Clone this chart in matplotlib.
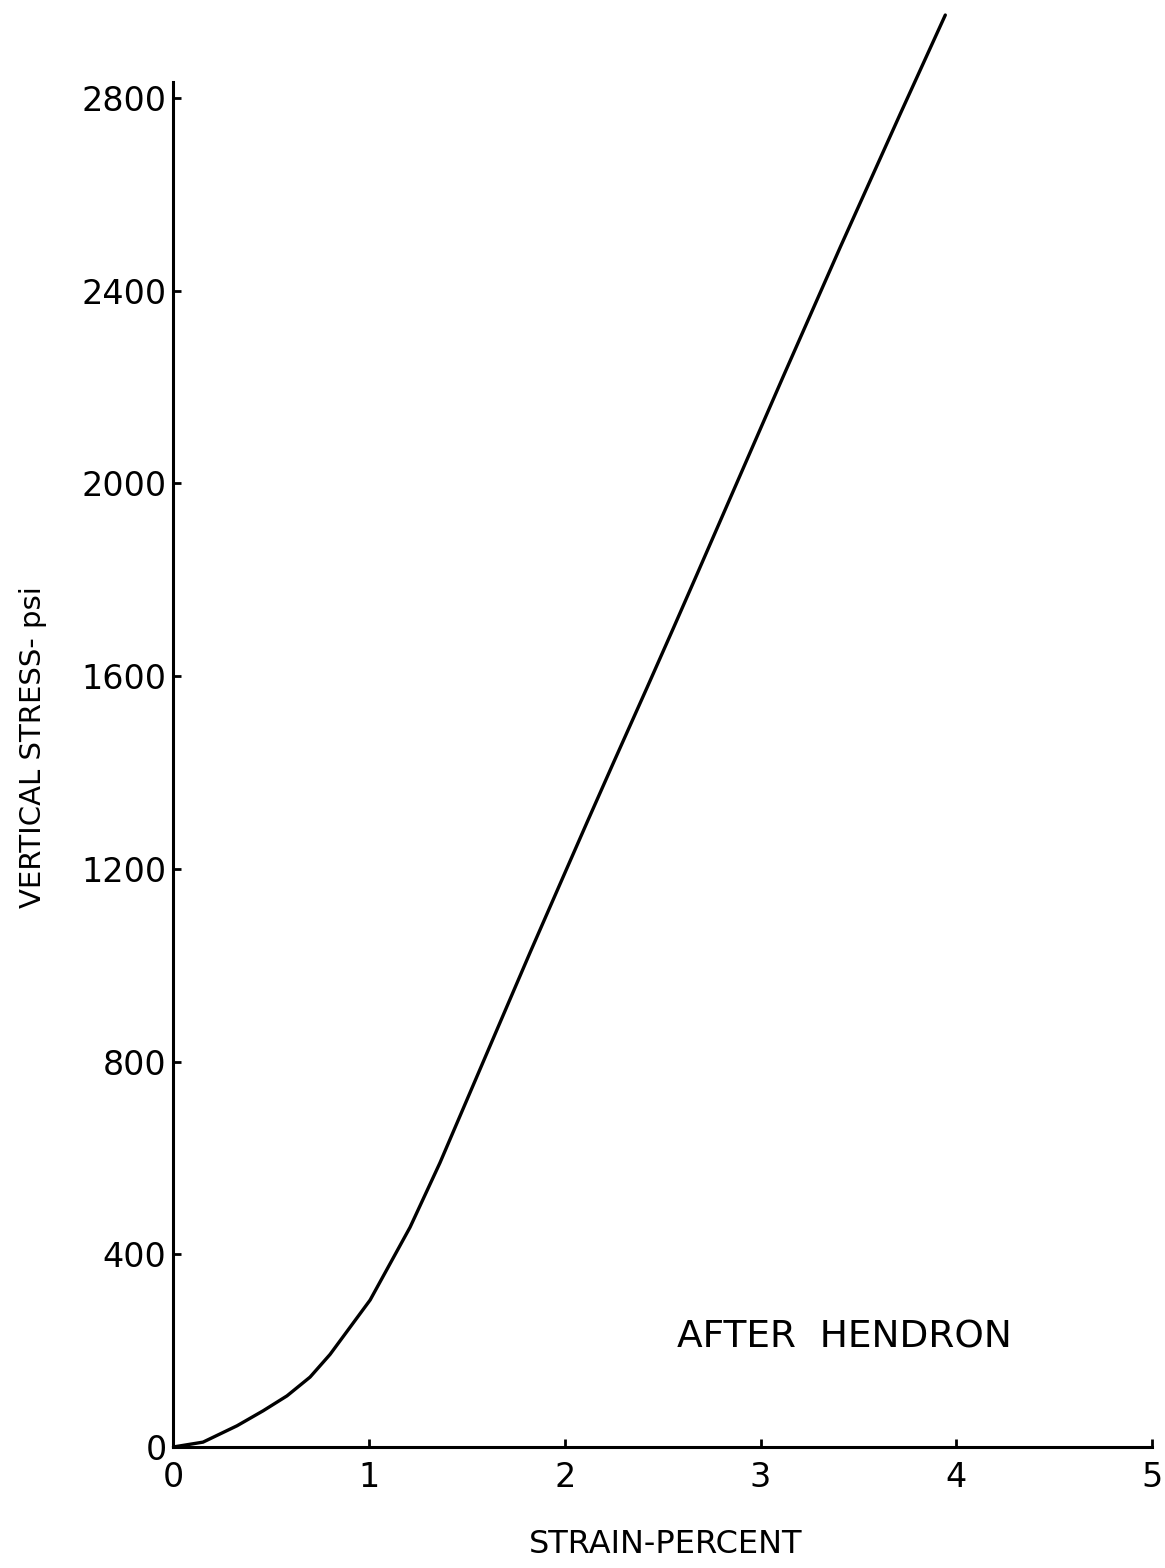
import matplotlib
matplotlib.use("Agg")
import matplotlib.pyplot as plt

# Data (strain %, vertical stress psi)
strain = [0.0, 0.151, 0.325, 0.458, 0.580, 0.698, 0.800, 1.005, 1.209, 1.362,
          1.517, 1.653, 1.822, 1.991, 2.114, 2.247, 2.421, 2.554, 2.676,
          3.116, 3.407, 3.714, 3.944]
stress = [0, 10, 44, 75, 106, 145, 192, 305, 456, 590,
          737, 866, 1026, 1183, 1297, 1419, 1577, 1699, 1812,
          2222, 2490, 2767, 2972]

x_ticks = [0, 1, 2, 3, 4, 5]
x_ticklabels = ["0", "1", "2", "3", "4", "5"]
y_ticks = [0, 400, 800, 1200, 1600, 2000, 2400, 2800]
y_ticklabels = ["0", "400", "800", "1200", "1600", "2000", "2400", "2800"]

plt.rcParams['font.family'] = ['DejaVu Sans']

fig = plt.figure(figsize=(11.65, 15.68), dpi=100)
ax = fig.add_axes([0.1489, 0.0772, 0.9888 - 0.1489, 0.8705])

ax.plot(strain, stress, color='black', lw=2.4, clip_on=False,
        solid_capstyle='round', solid_joinstyle='round')

ax.set_xlim(0, 5)
ax.set_ylim(0, 2833)
ax.set_xticks(x_ticks)
ax.set_xticklabels(x_ticklabels)
ax.set_yticks(y_ticks)
ax.set_yticklabels(y_ticklabels)

for s in ['top', 'right']:
    ax.spines[s].set_visible(False)
for s in ['left', 'bottom']:
    ax.spines[s].set_linewidth(2.2)

ax.tick_params(axis='both', direction='in', length=6, width=2.0, labelsize=24)
ax.tick_params(axis='x', pad=10)
ax.tick_params(axis='y', pad=5)

ax.set_xlabel("STRAIN-PERCENT", fontsize=23)
ax.xaxis.set_label_coords(0.503, -0.0718)
ax.xaxis.label.set_va('center')
ax.set_ylabel("VERTICAL STRESS- psi", fontsize=21)
ax.yaxis.set_label_coords(-0.1436, 0.513)
ax.yaxis.label.set_va('center')

ax.text(3.43, 228, "AFTER  HENDRON", fontsize=27, ha='center', va='center')

fig.savefig("out.png", dpi=100, facecolor='white')
